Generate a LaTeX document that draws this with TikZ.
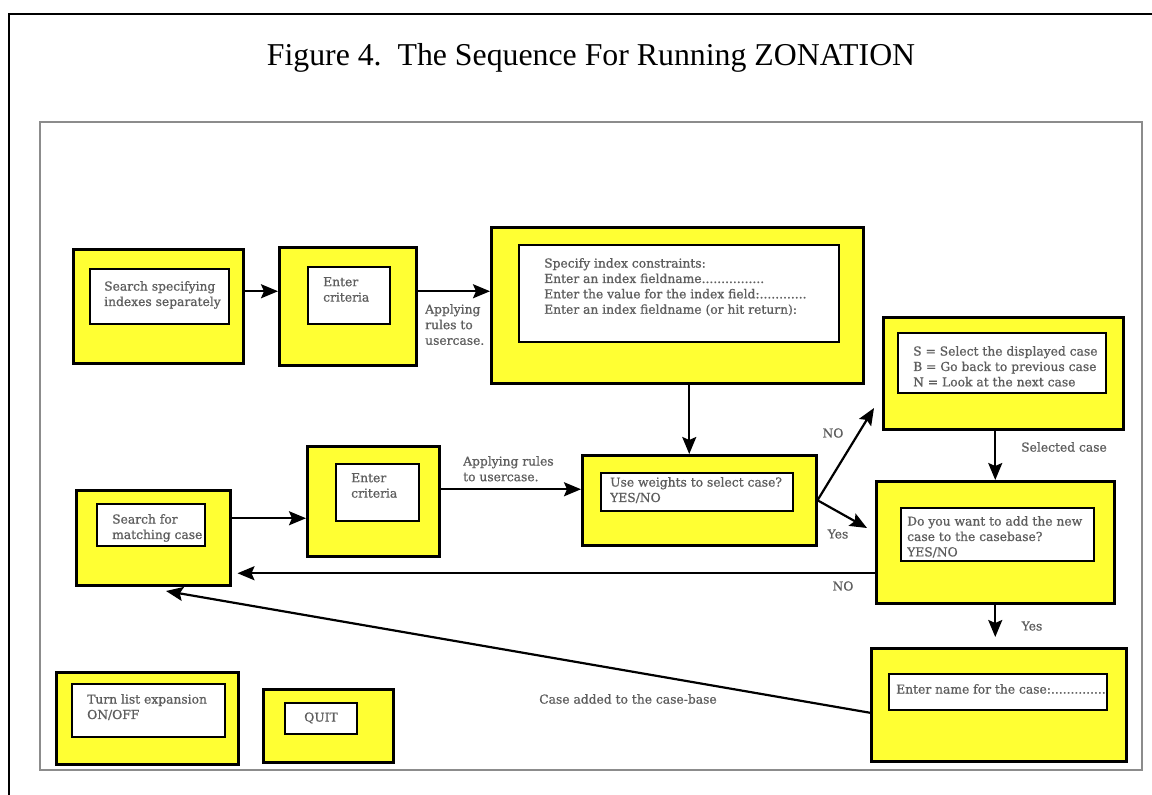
\documentclass[tikz,border=0pt]{standalone}
\usepackage{fontspec}
\setmainfont{Liberation Serif}
\newfontface\boxfont{DejaVu Serif}[FakeBold=0.9]
\usetikzlibrary{arrows.meta}
\definecolor{boxyellow}{HTML}{FFFF33}
\definecolor{txtgray}{HTML}{5E5E5E}
\definecolor{framegray}{HTML}{8C8C8C}

% a yellow panel with a white text field inside it
% #1 name, #2-#5 panel corners, #6-#9 field corners (pixel grid, y downwards)
\newcommand{\drawpanel}[9]{%
  \node[outerbox, minimum width=#4pt-#2pt, minimum height=#5pt-#3pt] (#1) at (#2,#3) {};
  \node[innerbox, minimum width=#8pt-#6pt, minimum height=#9pt-#7pt] (#1in) at (#6,#7) {};
}

\begin{document}
\begin{tikzpicture}[x=1pt,y=-1pt,
  outerbox/.style={draw=black, line width=2.5pt, fill=boxyellow, anchor=north west, inner sep=0pt},
  innerbox/.style={draw=black, line width=2.2pt, fill=white, anchor=north west, inner sep=0pt},
  boxtext/.style={anchor=north west, inner sep=0pt, align=left, text=txtgray,
    font=\boxfont\fontsize{12.3}{15.4}\selectfont},
  lbl/.style={inner sep=0pt, align=left, text=txtgray,
    font=\boxfont\fontsize{12.3}{15.6}\selectfont},
  flow/.style={line width=2.2pt, -{Stealth[length=17pt,width=14pt,inset=3pt]}},
]
\useasboundingbox (0,0) rectangle (1152,795);

% page frame and figure frame
\draw[line width=2.8pt] (9,800) -- (9,14) -- (1160,14);
\draw[framegray, line width=1.5pt] (40,122) rectangle (1142,770);

\node[anchor=base, inner sep=0pt, font=\fontsize{31.8}{36}\selectfont] (title) at (591,65)
  {Figure 4.\ \ The Sequence For Running ZONATION};

% panels
\drawpanel{A}{72}{248}{242}{362}{89}{268}{228}{323}
\drawpanel{B}{278}{246}{415}{364}{307}{266}{389}{323}
\drawpanel{C}{490}{226}{862}{382}{518}{244}{838}{341}
\drawpanel{D}{882}{316}{1122}{428}{897}{332}{1105}{392}
\drawpanel{E}{581}{454}{815}{544}{600}{472}{792}{510}
\drawpanel{F}{875}{480}{1113}{602}{900}{507}{1093}{560}
\drawpanel{G}{75}{489}{229}{584}{96}{503}{204}{545}
\drawpanel{H}{306}{445}{438}{555}{335}{463}{418}{520}
\drawpanel{I}{870}{647}{1125}{760}{888}{673}{1106}{709}
\drawpanel{J}{55}{671}{237}{763}{71}{683}{224}{736}
\drawpanel{K}{262}{688}{392}{761}{284}{702}{356}{733}

% panel texts
\node[boxtext] (Atxt) at (104,281) {Search specifying\\indexes separately};
\node[boxtext] (Btxt) at (323,277) {Enter\\criteria};
\node[boxtext] (Ctxt) at (544,258) {Specify index constraints:\\Enter an index fieldname................\\Enter the value for the index field:............\\Enter an index fieldname (or hit return):};
\node[boxtext] (Dtxt) at (913,346) {S = Select the displayed case\\B = Go back to previous case\\N = Look at the next case};
\node[boxtext] (Etxt) at (610,477) {Use weights to select case?\\YES/NO};
\node[boxtext] (Ftxt) at (907,516) {Do you want to add the new\\case to the casebase?\\YES/NO};
\node[boxtext] (Gtxt) at (112,514) {Search for\\matching case};
\node[boxtext] (Htxt) at (351,473) {Enter\\criteria};
\node[boxtext] (Itxt) at (896,684) {Enter name for the case:..............};
\node[boxtext] (Jtxt) at (87,694) {Turn list expansion\\ON/OFF};
\node[boxtext, anchor=center] (Ktxt) at (321,718) {QUIT};

% connectors
\coordinate (noTip) at (874,408);
\coordinate (yesTip) at (867,528);
\coordinate (caseTip) at (166,591);

\draw[flow] ([yshift=15pt]A.east) -- ([yshift=15pt]A.east -| B.west);
\draw[flow] ([yshift=15pt]B.east) -- ([yshift=15pt]B.east -| C.west);
\draw[flow] ([xshift=12pt]C.south) -- ([xshift=12pt]C.south |- E.north);
\draw[flow] (E.east) -- (noTip);
\draw[flow] (E.east) -- (yesTip);
\draw[flow] (D.south -| F.north) -- (F.north);
\draw[flow, shorten >=10pt] (F.south) -- (F.south |- I.north);
\draw[flow, shorten >=6pt] ([yshift=-31pt]F.west) -- ([yshift=-31pt]F.west -| G.east);
\draw[flow] ([yshift=19.5pt]G.east) -- ([yshift=19.5pt]G.east -| H.west);
\draw[flow] ([yshift=12pt]H.east) -- ([yshift=12pt]H.east -| E.west);
\draw[flow] ([yshift=-8pt]I.west) -- (caseTip);

% connector labels
\node[lbl, anchor=north west] (l1) at (425,304) {Applying\\rules to\\usercase.};
\node[lbl, anchor=north west] (l2) at (463,456) {Applying rules\\to usercase.};
\node[lbl] (l3) at (833,433) {NO};
\node[lbl] (l4) at (838,534) {Yes};
\node[lbl, anchor=west] (l5) at (1021,447) {Selected case};
\node[lbl] (l6) at (843,586) {NO};
\node[lbl] (l7) at (1032,626) {Yes};
\node[lbl] (l8) at (628,699) {Case added to the case-base};
\end{tikzpicture}
\end{document}
